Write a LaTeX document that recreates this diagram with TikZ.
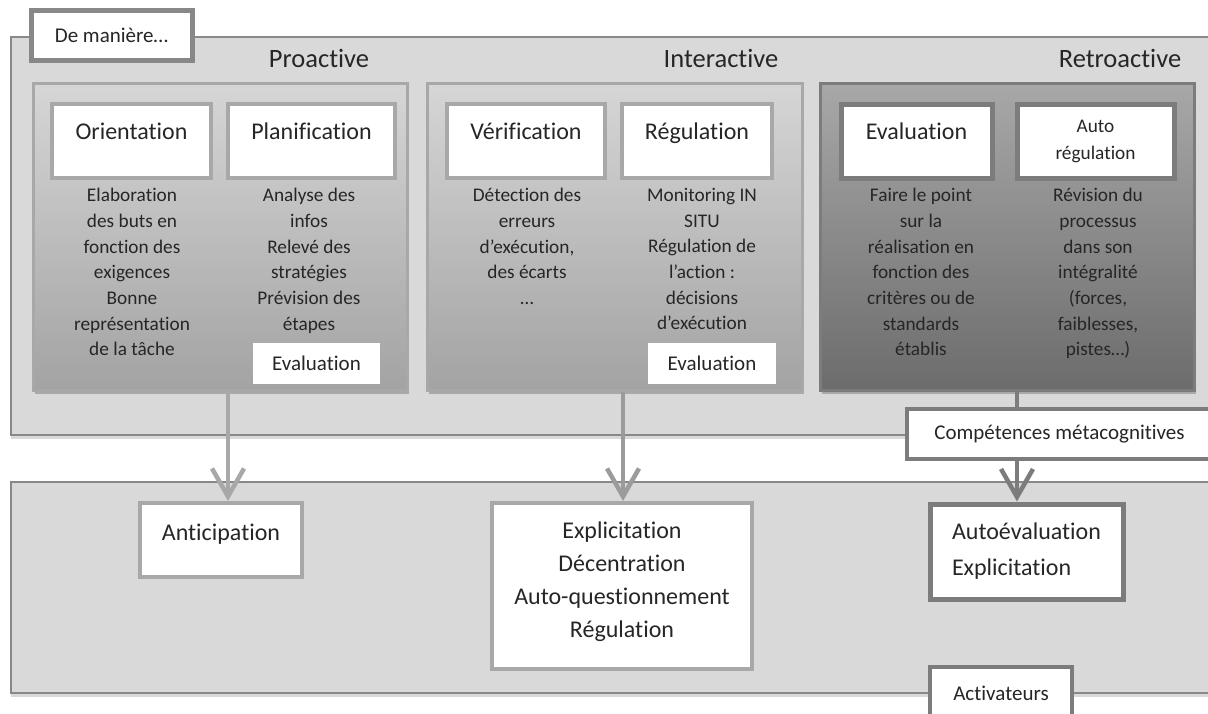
\documentclass[tikz,border=0pt]{standalone}
\usepackage{fontspec}
\setmainfont{Carlito}[Ligatures={NoCommon}]
\usetikzlibrary{arrows.meta,shadows,calc}
\definecolor{txt}{HTML}{262626}
\definecolor{outerfill}{HTML}{D9D9D9}
\definecolor{outerline}{HTML}{888888}
\definecolor{lightline}{HTML}{A8A8A8}
\definecolor{darkline}{HTML}{7C7C7C}
\definecolor{protop}{HTML}{D6D6D6}
\definecolor{probot}{HTML}{A3A3A3}
\definecolor{rettop}{HTML}{A8A8A8}
\definecolor{retbot}{HTML}{6C6C6C}
\definecolor{midline}{HTML}{9B9B9B}
\newcommand\mydesc{\fontsize{19.3pt}{25.7pt}\selectfont}
\newcommand\myhead{\fontsize{24pt}{28pt}\selectfont}
\newcommand\mytitle{\fontsize{26.5pt}{30pt}\selectfont}
\newcommand\mybig{\fontsize{24pt}{33pt}\selectfont}
\newcommand\mymid{\fontsize{21pt}{25pt}\selectfont}
\tikzset{
  outerbox/.style={draw=outerline, line width=2.5pt, fill=outerfill, inner sep=0pt,
    drop shadow={shadow xshift=0pt, shadow yshift=-4pt, opacity=0.15, fill=black}},
  groupbox/.style={draw=lightline, line width=3pt, inner sep=0pt,
    drop shadow={shadow xshift=2pt, shadow yshift=-4pt, opacity=0.22, fill=black}},
  progroup/.style={groupbox, top color=protop, bottom color=probot},
  retgroup/.style={groupbox, draw=darkline, top color=rettop, bottom color=retbot},
  headbox/.style={draw=lightline, line width=4.5pt, fill=white, inner sep=0pt, font=\myhead,
    text height=16pt, text depth=18.6pt},
  headdark/.style={headbox, draw=darkline, line width=5pt},
  whitebox/.style={draw=lightline, line width=4pt, fill=white, inner sep=0pt},
  darkbox/.style={draw=darkline, line width=4.5pt, fill=white, inner sep=0pt},
  evalbox/.style={fill=white, inner sep=0pt, font=\mymid, minimum width=127pt, minimum height=41pt},
  desc/.style={anchor=north, align=center, font=\mydesc, inner sep=0pt},
  titletxt/.style={font=\mytitle, inner sep=0pt},
  lightarrow/.style={draw=lightline, line width=4.5pt, -{Straight Barb[length=28pt,width=32pt]}},
  darkarrow/.style={draw=darkline, line width=4.5pt, -{Straight Barb[length=28pt,width=32pt]}},
  darkconn/.style={draw=darkline, line width=4.5pt}
}
\begin{document}
\begin{tikzpicture}[x=1pt, y=-1pt, every node/.style={text=txt}]
\useasboundingbox[fill=white] (0,0) rectangle (1208,713);

% outer frames
\node[outerbox, minimum width=1210pt, minimum height=398pt] (top) at (616,236) {};
\node[outerbox, minimum width=1210pt, minimum height=211pt] (bottom) at (616,587.5) {};

\node[draw=outerline, line width=5pt, fill=white, inner sep=0pt, minimum width=161pt, minimum height=50pt, font=\mymid] (maniere) at (111.5,35) {De manière…};

% titles
\node[titletxt] (tpro) at (319,58) {Proactive};
\node[titletxt] (tint) at (721,58) {Interactive};
\node[titletxt] (tret) at (1120,58) {Retroactive};

% group boxes
\node[progroup, minimum width=374pt, minimum height=307pt] (pro) at (220,236.5) {};
\node[progroup, minimum width=375pt, minimum height=307pt] (inter) at (614.5,236.5) {};
\node[retgroup, minimum width=374pt, minimum height=307pt] (retro) at (1007,236.5) {};

% headers
\node[headbox, minimum width=159pt, minimum height=74pt] (orient) at (131.5,141) {Orientation};
\node[headbox, minimum width=167pt, minimum height=74pt] (planif) at (311.5,141) {Planification};
\node[headbox, minimum width=158pt, minimum height=74pt] (verif) at (526,141) {Vérification};
\node[headbox, minimum width=150pt, minimum height=74pt] (regul) at (697,141) {Régulation};
\node[headdark, minimum width=151pt, minimum height=74pt] (evalr) at (916.5,141) {Evaluation};
\node[draw=darkline, line width=5pt, fill=white, inner sep=0pt, minimum width=157pt, minimum height=74pt, align=center, font=\fontsize{19.3pt}{27pt}\selectfont] (autor) at (1095.5,141) {Auto\\régulation};

% descriptions
\node[desc] (dorient) at (132,188) {Elaboration\\des buts en\\fonction des\\exigences\\Bonne\\représentation\\de la tâche};
\node[desc] (dplanif) at (309,188) {Analyse des\\infos\\Relevé des\\stratégies\\Prévision des\\étapes};
\node[desc] (dverif) at (527,188) {Détection des\\erreurs\\d’exécution,\\des écarts\\…};
\node[desc] (dregul) at (702,188) {Monitoring IN\\SITU\\Régulation de\\l’action :\\décisions\\d’exécution};
\node[desc] (devalr) at (921,188) {Faire le point\\sur la\\réalisation en\\fonction des\\critères ou de\\standards\\établis};
\node[desc] (dautor) at (1098,188) {Révision du\\processus\\dans son\\intégralité\\(forces,\\faiblesses,\\pistes…)};

% evaluation tags
\node[evalbox] (evpro) at (316.5,363.5) {Evaluation};
\node[evalbox, minimum width=128pt] (evint) at (712,363.5) {Evaluation};

% lower boxes
\node[whitebox, minimum width=162pt, minimum height=74pt, font=\mybig, text height=17pt, text depth=17pt] (antic) at (221,540) {Anticipation};
\node[whitebox, minimum width=260pt, minimum height=166pt, font=\mybig, align=center] (expl) at (622,586) {Explicitation\\Décentration\\Auto-questionnement\\Régulation\\[-21pt]\mbox{}};
\node[darkbox, line width=5pt, minimum width=193pt, minimum height=95pt, font=\fontsize{24pt}{36pt}\selectfont, align=left] (autoev) at (1026.5,551.5) {Autoévaluation\\Explicitation};
\node[darkbox, line width=4pt, minimum width=305pt, minimum height=50pt, font=\mymid] (comp) at (1059.5,434) {Compétences métacognitives};
\node[darkbox, line width=4pt, minimum width=142pt, minimum height=53pt, font=\mymid] (activ) at (1001,693.5) {Activateurs};

% connectors
\draw[lightarrow] ([xshift=8pt]pro.south) -- ([xshift=7pt]antic.north);
\draw[lightarrow, draw=midline] ([xshift=8.5pt]inter.south) -- ([xshift=1pt]expl.north);
\coordinate (rx) at ([xshift=10pt]retro.south);
\draw[darkconn] (rx) -- (rx |- comp.north);
\draw[darkarrow] (rx |- comp.south) -- (rx |- autoev.north);
\end{tikzpicture}
\end{document}
